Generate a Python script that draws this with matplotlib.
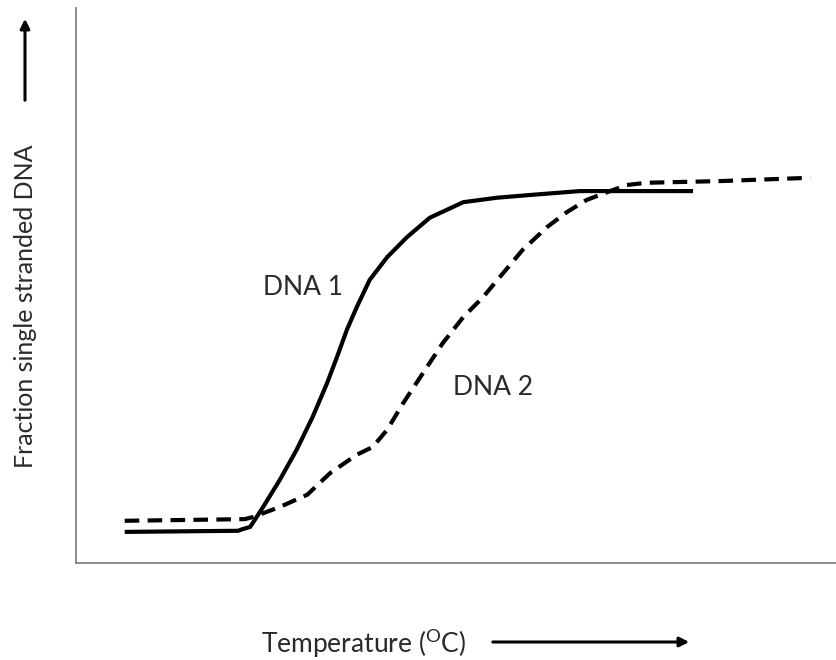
"""
DNA melting curves: fraction single stranded DNA vs temperature
for two DNA samples (DNA 1 solid, DNA 2 dashed).
"""
import matplotlib
matplotlib.use("Agg")
import matplotlib.pyplot as plt

plt.rcParams["font.family"] = ["Lato", "DejaVu Sans"]
plt.rcParams["mathtext.fontset"] = "custom"
plt.rcParams["mathtext.rm"] = "Lato"

# DNA 1 (solid) - temperature (arbitrary units) vs fraction single stranded
temp_1 = [6.4, 21.3, 21.9, 22.9, 24.6, 26.8, 29.0, 31.1, 33.0, 34.3, 35.6,
          36.9, 38.6, 40.9, 43.5, 46.5, 50.9, 55.3, 59.7, 66.2, 81.1]
frac_1 = [0.056, 0.058, 0.061, 0.065, 0.101, 0.150, 0.204, 0.263, 0.324,
          0.371, 0.420, 0.461, 0.510, 0.551, 0.587, 0.622, 0.650, 0.658,
          0.663, 0.670, 0.670]

# DNA 2 (dashed)
temp_2 = [6.4, 22.2, 23.3, 26.8, 30.4, 33.4, 36.9, 39.0, 40.9, 43.0, 45.6,
          48.2, 50.9, 53.5, 55.7, 58.7, 61.9, 64.5, 67.1, 69.8, 72.4, 75.0,
          84.6, 96.5]
frac_2 = [0.076, 0.079, 0.083, 0.101, 0.123, 0.162, 0.195, 0.209, 0.240,
          0.288, 0.342, 0.396, 0.443, 0.479, 0.515, 0.564, 0.605, 0.632,
          0.654, 0.668, 0.681, 0.685, 0.688, 0.694]

fig = plt.figure(figsize=(8.37, 6.6), dpi=100)
ax = fig.add_axes([0.0908, 0.147, 0.909, 0.841])

ax.plot(temp_1, frac_1, color="black", lw=3.0, solid_capstyle="butt",
        solid_joinstyle="round")
ax.plot(temp_2, frac_2, color="black", lw=3.0, linestyle=(0, (3.5, 2.0)),
        dash_capstyle="butt")

ax.text(24.6, 0.497, "DNA 1", fontsize=19, ha="left", va="center",
        color="#2a2a2a")
ax.text(49.6, 0.317, "DNA 2", fontsize=19, ha="left", va="center",
        color="#2a2a2a")

ax.set_xlim(0, 100)
ax.set_ylim(0, 1)
ax.set_xticks([])
ax.set_yticks([])
for side in ["top", "right"]:
    ax.spines[side].set_visible(False)
ax.spines["left"].set_color("#777777")
ax.spines["bottom"].set_color("#777777")
ax.spines["left"].set_linewidth(1.2)
ax.spines["bottom"].set_linewidth(1.2)

# axis labels with arrows
fig.text(0.030, 0.536, "Fraction single stranded DNA", rotation=90,
         fontsize=18, ha="center", va="center", color="#2a2a2a")
fig.text(0.435, 0.026, r"Temperature ($^{\mathrm{O}}$C)", fontsize=19,
         ha="center", va="center", color="#2a2a2a")

fig.add_artist(matplotlib.patches.FancyArrowPatch(
    (25 / 837, 1 - 103 / 660), (25 / 837, 1 - 16 / 660),
    transform=fig.transFigure, arrowstyle="-|>", mutation_scale=14,
    color="black", lw=2.2))
fig.add_artist(matplotlib.patches.FancyArrowPatch(
    (490 / 837, 1 - 642 / 660), (692 / 837, 1 - 642 / 660),
    transform=fig.transFigure, arrowstyle="-|>", mutation_scale=14,
    color="black", lw=2.2))

fig.savefig("out.png", dpi=100)
